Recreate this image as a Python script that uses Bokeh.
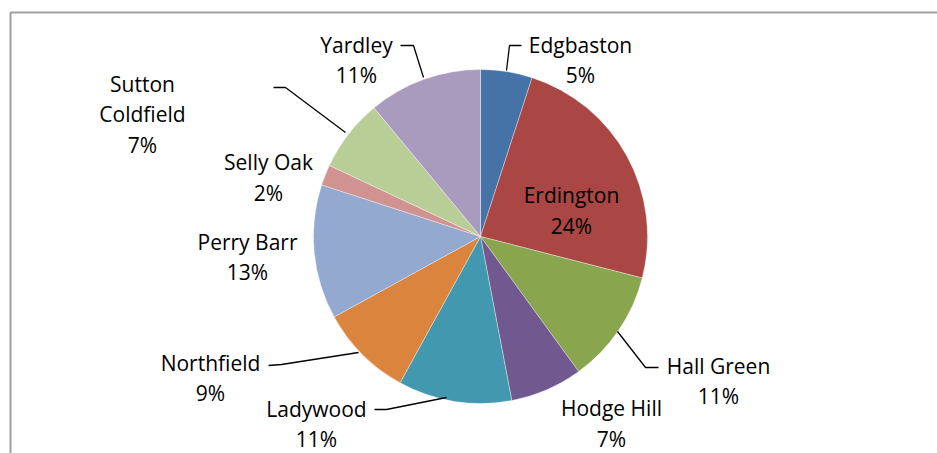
import math
from bokeh.plotting import figure
from bokeh.models import Range1d, ColumnDataSource
from bokeh.core.properties import value
from bokeh.embed import file_html
from bokeh.resources import INLINE

# ---- data ----
districts = ["Edgbaston", "Erdington", "Hall Green", "Hodge Hill", "Ladywood",
             "Northfield", "Perry Barr", "Selly Oak", "Sutton Coldfield", "Yardley"]
shares = [5, 24, 11, 7, 11, 9, 13, 2, 7, 11]
colors = ["#4572A7", "#AA4643", "#89A54E", "#71588F", "#4198AF",
          "#DB843D", "#93A9CF", "#D19392", "#B9CD96", "#A99BBD"]

# ---- layout (pixel-like coords, y measured from top of window) ----
W, H = 937, 453
def Y(py):
    return H - py

cx, cy, R = 480, Y(236), 167

label_x = [580, 571, 718, 611, 316, 210, 247, 268, 142, 356]
label_py = [59.5, 210, 380.5, 423, 423.5, 377.5, 256.5, 177, 114, 59.5]

leaders = [
    [(521, 45), (509, 45), (506, 70)],            # Edgbaston
    None,                                          # Erdington (inside)
    [(617, 331), (645, 367), (658, 367)],          # Hall Green
    None,                                          # Hodge Hill
    [(374, 409), (386, 409), (446, 397)],          # Ladywood
    [(268, 365), (281, 364), (358, 352)],          # Northfield
    None,                                          # Perry Barr
    None,                                          # Selly Oak
    [(273, 87), (285, 87), (345, 132)],            # Sutton Coldfield
    [(400, 45), (413, 45), (423, 77)],             # Yardley
]

total = sum(shares)
starts, ends = [], []
cum = 0.0
for s in shares:
    starts.append(math.pi / 2 - 2 * math.pi * cum / total)
    cum += s
    ends.append(math.pi / 2 - 2 * math.pi * cum / total)

pct = [f"{round(100 * s / total)}%" for s in shares]
texts = []
for d, pc in zip(districts, pct):
    name = d.replace(" ", "\n") if d == "Sutton Coldfield" else d
    texts.append(f"{name}\n{pc}")

src = ColumnDataSource(dict(start=starts, end=ends, color=colors, name=districts))

p = figure(width=W, height=H, output_backend="svg", toolbar_location=None,
           x_range=Range1d(0, W), y_range=Range1d(0, H),
           min_border=0)
p.axis.visible = False
p.grid.visible = False
p.outline_line_color = None
p.background_fill_color = "white"

# chart frame
p.line(x=[10, 10, 960], y=[Y(480), Y(12), Y(12)], line_color="#A0A0A0", line_width=2)

p.wedge(x=cx, y=cy, radius=R, start_angle="start", end_angle="end",
        direction="clock", fill_color="color", line_color="white",
        line_width=0.6, line_alpha=0.6, source=src)

xs, ys = [], []
for l in leaders:
    if l:
        xs.append([pt[0] for pt in l])
        ys.append([Y(pt[1]) for pt in l])
p.multi_line(xs=xs, ys=ys, line_color="black", line_width=1.3)

p.text(x=label_x, y=[Y(v) for v in label_py], text=texts,
       text_align="center", text_baseline="middle",
       text_font=value("Open Sans"), text_font_size="21px",
       text_line_height=1.1, text_color="black")

open("out.html", "w").write(file_html(p, INLINE))
